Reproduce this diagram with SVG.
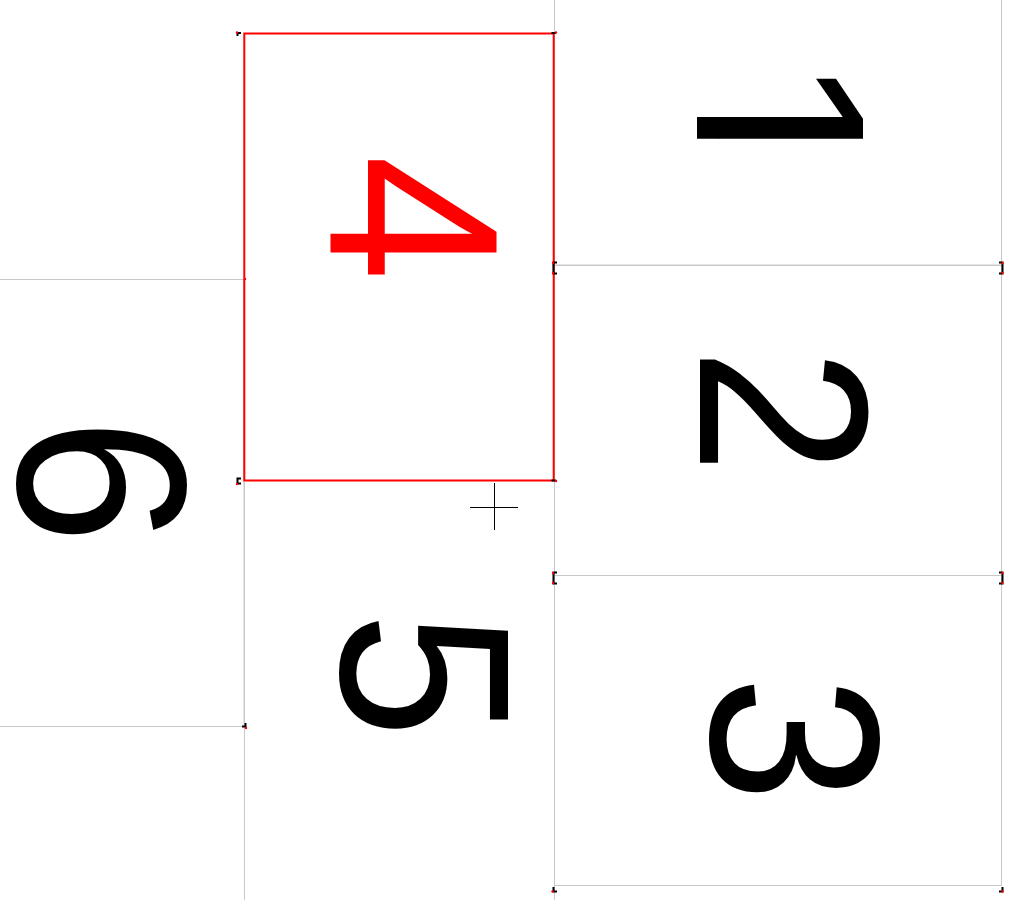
<svg xmlns="http://www.w3.org/2000/svg" xmlns:xlink="http://www.w3.org/1999/xlink" width="1019" height="900" viewBox="0 0 1019 900">
<style>
.page{fill:#ffffff;stroke:#c8c8c8;stroke-width:1}
.sel{fill:none;stroke:#ff0000;stroke-width:2}
.num{font-family:"Liberation Sans",Arimo,sans-serif;font-size:235px;fill:#000000;text-anchor:middle}
.mk{fill:none;stroke:#000000;stroke-width:2}
.dot{fill:#ff0000}
.cur{stroke:#000000;stroke-width:1;fill:none}
</style>
<defs>
<clipPath id="nofoot" clipPathUnits="userSpaceOnUse">
<rect x="718" y="-50" width="300" height="320"/>
</clipPath>
<clipPath id="stemext" clipPathUnits="userSpaceOnUse">
<rect x="697" y="-50" width="21.5" height="320"/>
</clipPath>
</defs>
<rect x="0" y="0" width="1019" height="900" fill="#ffffff"/>
<g id="page1"><rect class="page" x="554.5" y="-45" width="447" height="310"/>
<g clip-path="url(#nofoot)"><text id="t1" class="num" transform="translate(697,123.5) rotate(90) scale(1.05,1.025)">1</text></g>
<g clip-path="url(#stemext)"><use xlink:href="#t1" href="#t1" transform="translate(-21,0)"/></g>
</g>
<g id="page2"><rect class="page" x="554.5" y="265.5" width="447" height="310"/><text class="num" transform="translate(700,411) rotate(90) scale(0.965,1.025)">2</text></g>
<g id="page3"><rect class="page" x="554.5" y="575.5" width="447" height="310"/><text class="num" transform="translate(711,739) rotate(90) scale(0.965,1.025)">3</text></g>
<g id="page5"><rect class="page" x="244.5" y="480.5" width="310" height="447"/><text class="num" transform="translate(341,675) rotate(90) scale(0.965,1.025)">5</text></g>
<g id="page6"><rect class="page" x="-66" y="279.5" width="310" height="447"/><text class="num" transform="translate(18,481) rotate(90) scale(0.965,1.025)">6</text></g>
<g id="page4"><rect fill="#ffffff" x="244.5" y="33.5" width="309" height="447"/><text class="num" transform="translate(330,218) rotate(90) scale(0.965,1.025)" style="fill:#ff0000">4</text><rect class="sel" x="244.3" y="33.5" width="309.4" height="447"/></g>
<g id="marks">
<path class="mk" d="M241,33 H237.5 V36"/><circle class="dot" cx="237" cy="32.5" r="1.2"/>
<path class="mk" d="M551.5,33 H556"/><circle class="dot" cx="556" cy="32.5" r="1.2"/>
<path class="mk" d="M241,478.5 H237.5 V483.5 H241"/><circle class="dot" cx="237" cy="484" r="1.2"/>
<path class="mk" d="M551.5,480.5 H556"/><circle class="dot" cx="556" cy="481" r="1.2"/>
<path class="mk" d="M557,262.5 H553.5 V273.5 H557"/><circle class="dot" cx="553" cy="263" r="1.2"/><circle class="dot" cx="553" cy="273" r="1.2"/>
<path class="mk" d="M999,262.5 H1002.5 V273.5 H999"/><circle class="dot" cx="1002.5" cy="263" r="1.2"/><circle class="dot" cx="1002.5" cy="273" r="1.2"/>
<path class="mk" d="M557,572.5 H553.5 V583.5 H557"/><circle class="dot" cx="553" cy="573" r="1.2"/><circle class="dot" cx="553" cy="583" r="1.2"/>
<path class="mk" d="M999,572.5 H1002.5 V583.5 H999"/><circle class="dot" cx="1002.5" cy="573" r="1.2"/><circle class="dot" cx="1002.5" cy="583" r="1.2"/>
<path class="mk" d="M553.5,887 V891.5 H557"/><circle class="dot" cx="552.5" cy="891.5" r="1.2"/>
<path class="mk" d="M1002.5,887 V891.5 H999"/><circle class="dot" cx="1002.5" cy="891.5" r="1.2"/>
<path class="mk" d="M242,726.5 H245.5 V723"/><circle class="dot" cx="246" cy="728" r="1.2"/>
<circle class="dot" cx="245" cy="279" r="1.2"/>
</g>
<g id="cursor">
<path d="M470,507.5 H518 M494.5,483 V530" stroke="#ffffff" stroke-width="3" fill="none"/>
<path class="cur" d="M470,507.5 H518 M494.5,483 V530"/>
</g>
</svg>
